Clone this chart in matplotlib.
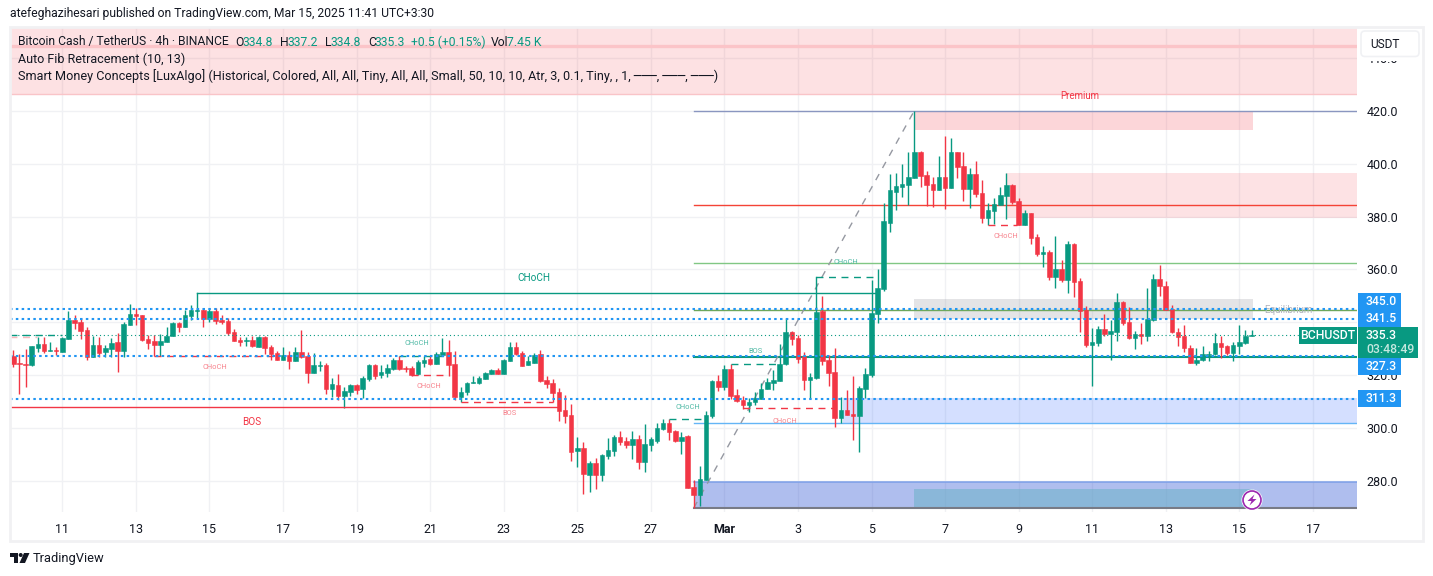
import matplotlib
matplotlib.use('Agg')
import matplotlib.pyplot as plt
from matplotlib.patches import Rectangle, Circle, Polygon, FancyBboxPatch

plt.rcParams['font.family'] = ['Roboto', 'DejaVu Sans']

# 4h candles
opens = [327.4, 324.6, 324.3, 324.0, 330.4, 331.9, 329.3, 329.6, 328.9, 333.8, 341.0, 340.2, 337.2, 327.0, 331.5, 328.9, 330.0, 332.6, 329.2, 339.0,
         343.2, 342.8, 333.8, 333.0, 331.5, 332.6, 334.9, 339.8, 338.3, 342.5, 344.5, 344.7, 341.3, 344.3, 341.0, 340.6, 336.4, 333.4, 333.0, 333.4,
         330.7, 334.5, 330.7, 328.5, 325.9, 327.7, 325.5, 328.9, 327.4, 321.0, 323.6, 324.0, 314.9, 316.4, 312.3, 313.8, 316.4, 314.9, 318.7, 324.0,
         320.2, 321.0, 322.5, 325.8, 322.8, 322.8, 320.6, 324.7, 326.2, 324.3, 327.7, 328.9, 324.3, 311.9, 313.8, 317.2, 317.2, 318.7, 320.6, 322.1,
         320.6, 325.5, 330.7, 328.5, 324.0, 324.7, 328.1, 318.3, 317.2, 313.8, 307.0, 305.1, 291.5, 292.6, 282.4, 287.0, 282.4, 289.6, 291.5, 296.8,
         295.3, 293.8, 296.0, 287.4, 293.8, 295.3, 299.8, 302.1, 299.1, 295.3, 297.2, 277.9, 274.9, 280.6, 304.7, 317.9, 315.7, 322.5, 312.6, 310.8,
         308.9, 310.0, 311.1, 314.9, 317.2, 317.9, 324.3, 336.4, 334.1, 327.4, 318.3, 319.0, 344.3, 325.9, 321.3, 304.0, 307.0, 305.5, 304.7, 314.9,
         320.2, 343.2, 352.6, 377.5, 389.2, 391.1, 391.9, 394.5, 404.3, 395.7, 392.3, 390.0, 394.9, 390.8, 404.3, 399.0, 390.4, 396.0, 388.9, 379.5,
         382.1, 384.3, 387.7, 391.9, 385.9, 376.8, 381.3, 372.3, 365.8, 366.6, 357.2, 360.2, 356.0, 369.6, 355.7, 344.7, 331.5, 332.3, 337.5, 335.6,
         336.4, 347.7, 340.2, 334.1, 335.6, 334.9, 340.9, 356.4, 353.8, 345.1, 336.4, 334.9, 330.4, 324.7, 325.8, 327.7, 328.1, 332.3, 331.1, 328.5,
         331.1, 332.3, 334.8]
highs = [329.6, 328.0, 330.0, 331.1, 334.7, 334.7, 332.6, 330.9, 334.4, 344.3, 342.8, 341.7, 338.3, 334.9, 334.5, 331.5, 334.2, 336.0, 340.2, 347.0,
         345.5, 342.8, 335.3, 335.3, 335.7, 338.3, 340.2, 340.2, 344.7, 346.6, 345.5, 345.5, 345.5, 345.5, 342.8, 341.7, 337.5, 334.5, 334.5, 334.9,
         334.9, 334.9, 331.5, 329.2, 330.7, 329.2, 330.7, 337.2, 328.9, 328.5, 325.5, 324.7, 319.1, 320.6, 315.7, 316.8, 316.8, 319.8, 324.3, 324.3,
         324.0, 324.3, 326.6, 327.4, 323.6, 323.6, 325.8, 327.4, 327.4, 328.9, 334.1, 333.4, 329.2, 315.7, 317.5, 319.8, 319.8, 321.3, 322.5, 322.8,
         326.2, 332.6, 332.6, 329.2, 327.4, 328.5, 329.6, 319.8, 318.7, 315.3, 312.6, 309.2, 296.8, 294.9, 287.7, 288.9, 290.4, 296.4, 297.5, 299.1,
         296.8, 299.1, 297.5, 301.7, 296.8, 302.1, 303.6, 303.6, 299.4, 298.7, 297.5, 280.6, 285.8, 306.6, 318.3, 320.2, 324.0, 324.3, 314.9, 312.3,
         311.5, 313.8, 317.2, 319.1, 322.1, 331.9, 341.7, 336.8, 335.3, 328.9, 321.0, 346.0, 350.0, 327.7, 330.4, 311.9, 314.5, 319.8, 316.0, 322.8,
         356.0, 360.2, 385.1, 396.0, 396.4, 399.8, 404.3, 419.8, 404.7, 397.2, 394.9, 402.8, 410.4, 409.6, 404.3, 404.3, 398.3, 400.9, 393.8, 385.1,
         387.0, 391.1, 396.4, 392.3, 387.0, 382.5, 381.3, 373.4, 368.9, 367.4, 372.6, 363.6, 370.8, 370.0, 356.8, 346.2, 337.9, 338.7, 343.2, 341.0,
         351.1, 348.1, 345.8, 336.8, 339.8, 353.0, 358.3, 361.7, 355.7, 346.6, 337.9, 339.0, 331.5, 330.4, 331.1, 329.2, 336.0, 334.9, 331.5, 332.6,
         339.0, 337.2, 337.2]
lows = [323.3, 313.0, 315.8, 323.6, 329.0, 328.6, 329.2, 327.9, 328.9, 333.8, 337.5, 333.8, 325.9, 327.0, 327.0, 327.0, 327.0, 321.3, 327.0, 339.0,
        339.0, 333.0, 330.0, 327.4, 327.4, 332.6, 334.9, 336.4, 338.3, 341.0, 341.7, 338.3, 340.2, 339.4, 339.4, 335.3, 333.0, 331.1, 331.1, 330.7,
        330.7, 328.1, 325.9, 325.9, 325.9, 322.4, 325.5, 326.6, 317.2, 321.0, 321.7, 313.0, 311.9, 310.8, 307.7, 312.3, 313.0, 311.5, 317.9, 318.7,
        319.1, 319.4, 322.1, 322.1, 321.3, 319.8, 320.2, 323.2, 324.0, 324.3, 327.4, 319.8, 310.8, 310.0, 312.6, 317.2, 316.8, 318.7, 320.6, 320.6,
        320.6, 325.5, 327.7, 323.6, 324.0, 324.7, 317.5, 315.3, 310.0, 302.8, 302.1, 287.7, 285.5, 275.3, 276.0, 277.2, 280.2, 288.5, 289.6, 293.8,
        292.6, 288.5, 284.7, 283.6, 291.5, 294.5, 299.4, 295.7, 294.9, 290.4, 277.5, 270.0, 270.8, 280.6, 304.0, 314.2, 314.5, 311.1, 310.0, 307.4,
        306.2, 308.9, 311.1, 314.9, 314.5, 317.9, 324.0, 331.5, 324.7, 314.5, 311.5, 318.7, 324.0, 316.0, 300.6, 302.1, 305.1, 295.7, 291.1, 311.5,
        319.4, 339.8, 351.9, 374.2, 382.5, 387.4, 384.3, 394.5, 391.1, 384.0, 383.6, 390.0, 382.8, 390.8, 394.5, 385.8, 383.2, 387.4, 377.5, 376.8,
        377.2, 384.3, 379.0, 384.7, 376.8, 376.8, 369.6, 365.1, 361.0, 356.0, 353.0, 355.3, 351.1, 349.6, 336.4, 330.7, 316.0, 331.1, 334.9, 325.8,
        333.0, 339.0, 333.8, 330.0, 331.9, 333.0, 340.6, 350.0, 344.7, 336.0, 331.1, 328.9, 324.7, 323.9, 325.5, 325.5, 327.7, 326.6, 327.7, 325.5,
        328.1, 331.9, 334.8]
closes = [324.5, 324.3, 324.1, 331.1, 331.9, 329.4, 329.6, 329.3, 334.0, 341.0, 339.8, 336.8, 327.0, 331.5, 328.5, 330.4, 332.3, 329.2, 339.4, 343.2,
          342.5, 333.4, 332.3, 331.5, 333.0, 334.9, 339.8, 338.3, 342.8, 344.7, 344.7, 341.3, 344.3, 340.6, 340.2, 336.0, 333.0, 332.6, 333.4, 331.1,
          334.5, 330.4, 328.1, 325.9, 327.7, 325.5, 328.9, 327.0, 321.0, 324.0, 324.0, 314.9, 316.8, 312.3, 314.2, 316.4, 314.5, 319.1, 324.0, 319.8,
          321.3, 322.8, 325.8, 322.5, 322.5, 320.2, 325.1, 325.8, 324.3, 328.1, 328.9, 324.0, 311.9, 313.8, 317.2, 317.5, 319.1, 320.9, 322.1, 320.6,
          325.8, 330.7, 328.1, 323.6, 325.5, 327.7, 317.9, 316.8, 313.4, 306.6, 304.7, 291.1, 292.6, 282.8, 287.0, 282.4, 290.0, 291.9, 296.8, 294.9,
          293.8, 296.0, 287.4, 294.1, 296.0, 300.2, 302.1, 298.7, 295.3, 296.8, 277.5, 274.9, 280.9, 305.1, 317.9, 315.7, 322.5, 312.3, 310.4, 308.9,
          310.0, 311.5, 314.9, 317.5, 318.3, 324.3, 336.4, 333.8, 326.2, 318.3, 319.4, 344.0, 325.5, 320.9, 304.0, 307.0, 305.1, 304.7, 315.3, 320.6,
          343.6, 353.0, 378.3, 390.0, 391.5, 392.3, 394.9, 404.3, 395.3, 391.9, 390.0, 394.9, 390.8, 404.3, 398.7, 390.4, 396.0, 388.5, 379.5, 382.5,
          384.7, 388.1, 391.9, 385.5, 376.8, 381.3, 371.9, 365.8, 366.6, 357.2, 360.2, 356.0, 369.6, 355.3, 344.3, 331.5, 332.6, 337.5, 335.6, 336.8,
          347.7, 339.8, 334.1, 335.6, 334.9, 341.3, 356.4, 353.8, 344.7, 336.4, 334.5, 330.4, 324.7, 325.8, 328.1, 328.1, 332.3, 330.7, 328.5, 331.5,
          332.6, 334.9, 335.3]

# axis ticks
price_ticks = [440, 420, 400, 380, 360, 340, 320, 300, 280]
price_labels = ['440.0', '420.0', '400.0', '380.0', '360.0', '', '320.0', '300.0', '280.0']
date_pos = [8, 20, 32, 44, 56, 68, 80, 92, 104, 116, 128, 140, 152, 164, 176, 188, 200, 212]
date_labels = ['11', '13', '15', '17', '19', '21', '23', '25', '27', 'Mar', '3', '5', '7', '9', '11', '13', '15', '17']

# horizontal levels
blue_levels = [345.0, 341.5, 327.3, 311.3]
last_price = 335.3
fib_levels = [420.0, 384.5, 362.6, 344.6, 327.0, 301.9, 270.0]
fib_colors = ['#8a96c0', '#f44336', '#81c784', '#6fa85a', '#089981', '#64b5f6', '#787b86']
fib_widths = [1.0, 1.0, 1.0, 1.0, 1.5, 1.0, 1.5]

# market structure lines: start bar, end bar, price, colour, dashed
struct_lines = [
    (30, 140.7, 351.0, '#089981', False),
    (-0.5, 88.7, 308.3, '#f23645', False),
    (23, 42.7, 327.2, '#f23645', True),
    (-0.5, 3.9, 334.5, '#f9b6bb', True),
    (-0.5, 8, 335.4, '#089981', True),
    (64.8, 70.9, 320.2, '#f23645', True),
    (63, 70.4, 327.4, '#089981', True),
    (73, 88, 310.0, '#f23645', True),
    (107, 112.6, 303.4, '#089981', True),
    (117, 124.7, 324.2, '#089981', True),
    (119, 133.7, 307.7, '#f23645', True),
    (131, 140.8, 357.3, '#089981', True),
    (159, 163.7, 376.8, '#f23645', True),
]
struct_labels = [
    ('CHoCH', 84.9, 356.8, '#089981', 7.2),
    ('BOS', 38.9, 302.5, '#f23645', 7.2),
    ('CHoCH', 32.9, 323.0, '#f7828c', 5.4),
    ('CHoCH', 65.8, 331.9, '#4fb9a5', 5.4),
    ('CHoCH', 67.8, 315.7, '#f7828c', 5.4),
    ('BOS', 81.0, 305.5, '#f7828c', 5.4),
    ('CHoCH', 110.0, 308.1, '#4fb9a5', 5.4),
    ('CHoCH', 125.9, 302.8, '#f7828c', 5.4),
    ('BOS', 121.0, 328.9, '#4fb9a5', 5.4),
    ('CHoCH', 135.8, 362.5, '#4fb9a5', 5.4),
    ('CHoCH', 161.9, 372.3, '#f7828c', 5.4),
    ('Premium', 174.0, 425.5, '#f23645', 7.0),
    ('Equilibrium', 208.0, 344.7, '#b2b5be', 7.0),
]

fig = plt.figure(figsize=(14.33, 5.76), dpi=100)
ax = fig.add_axes([10 / 1433, 1 - 512 / 576, 1347 / 1433, 485 / 576])
ax.set_xlim(-0.54, 219.2)
ax.set_ylim(268.49, 451.51)
ax.set_axisbelow(True)
for s in ax.spines.values():
    s.set_visible(False)

ax.set_yticks(price_ticks)
ax.set_yticklabels(price_labels, fontsize=9, color='#131722')
ax.yaxis.tick_right()
ax.set_xticks(date_pos)
ax.set_xticklabels(date_labels, fontsize=9, color='#131722')
ax.tick_params(axis='both', length=0)
ax.tick_params(axis='y', pad=7)
ax.tick_params(axis='x', pad=8)
ax.grid(color='#f0f1f4', linewidth=1)
for t, lab in zip(ax.get_xticklabels(), date_labels):
    if lab == 'Mar':
        t.set_fontweight('bold')

# zones
ax.axhspan(426.4, 451.51, color='#f23645', alpha=0.15, lw=0, zorder=1)
ax.axhline(426.4, color='#f9c4c8', lw=1, zorder=1)
ax.axhline(444.4, color='#fbc4c8', lw=2.4, zorder=1)
ax.add_patch(Rectangle((147, 412.7), 55.2, 7.3, fc='#f23645', alpha=0.2, lw=0, zorder=1))
ax.add_patch(Rectangle((162, 379.4), 57.2, 17.1, fc='#f23645', alpha=0.14, lw=0, zorder=1))
ax.add_patch(Rectangle((147, 341.5), 55.2, 7.4, fc='#787b86', alpha=0.2, lw=0, zorder=1))
ax.add_patch(Rectangle((135.4, 301.9), 83.8, 9.7, fc='#2962ff', alpha=0.2, lw=0, zorder=1))
ax.add_patch(Rectangle((111, 270.0), 108.2, 9.7, fc='#2f55d4', alpha=0.38, lw=0, zorder=1))
ax.add_patch(Rectangle((147, 270.0), 55.2, 7.0, fc='#67b2c5', alpha=0.5, lw=0, zorder=1))
ax.plot([111, 219.2], [279.7, 279.7], color='#7c9fe8', lw=1.1, zorder=2)

# fib lines
for lv, c, w in zip(fib_levels, fib_colors, fib_widths):
    ax.plot([111, 219.2], [lv, lv], color=c, lw=w, zorder=2)
ax.plot([111, 147], [270, 420], color='#9598a1', lw=1, ls=(0, (5, 5)), zorder=2)

# candles
xs = list(range(len(opens)))
up = [c >= o for o, c in zip(opens, closes)]
cols = ['#089981' if u else '#f23645' for u in up]
ax.vlines(xs, lows, highs, colors=cols, linewidth=1.0, zorder=3)
ax.bar(xs, [abs(c - o) for o, c in zip(opens, closes)], bottom=[min(o, c) for o, c in zip(opens, closes)],
       width=0.74, color=cols, edgecolor=cols, linewidth=0.4, zorder=3)

# structure lines
for x0, x1, p, c, dashed in struct_lines:
    ax.plot([x0, x1], [p, p], color=c, lw=1, ls=(0, (5, 4)) if dashed else '-', zorder=4)
ax.plot([30, 30], [344.5, 351.0], color='#089981', lw=1, zorder=4)
ax.plot([131, 131], [346, 357.3], color='#089981', lw=1, zorder=4)
for txt, x, p, c, fs in struct_labels:
    ax.text(x, p, txt, color=c, fontsize=fs, ha='center', va='center', zorder=4)

# dotted levels
for lv in blue_levels:
    ax.plot([-0.54, 219.2], [lv, lv], color='#2196f3', lw=1.5, ls=(0, (1.2, 1.6)), zorder=5)
ax.plot([-0.54, 219.2], [last_price, last_price], color='#089981', lw=0.8, ls=(0, (1, 2.5)), zorder=5)

# everything around the pane, in pixels
ov = fig.add_axes([0, 0, 1, 1])
ov.set_xlim(0, 1433)
ov.set_ylim(576, 0)
ov.axis('off')
ov.add_patch(Rectangle((10, 27), 1413, 514, fc='none', ec='#f1f1f3', lw=2))

ov.text(10, 14, 'atefeghazihesari published on TradingView.com, Mar 15, 2025 11:41 UTC+3:30', fontsize=8.7, color='#131722', va='center')
dark = '#131722'
green = '#089981'
legend_bits = [
    (18, 'Bitcoin Cash / TetherUS · 4h · BINANCE', dark), (235, 'O', dark), (243, '334.8', green),
    (280, 'H', dark), (288, '337.2', green), (325, 'L', dark), (331, '334.8', green),
    (368, 'C', dark), (375, '335.3', green), (411, '+0.5 (+0.15%)', green), (491, 'Vol', dark), (507, '7.45 K', green),
]
for x, txt, c in legend_bits:
    ov.text(x, 42, txt, fontsize=8.7, color=c, va='center')
ov.text(18, 59, 'Auto Fib Retracement (10, 13)', fontsize=9, color=dark, va='center')
ov.text(18, 76, 'Smart Money Concepts [LuxAlgo] (Historical, Colored, All, All, Tiny, All, All, Small, 50, 10, 10, Atr, 3, 0.1, Tiny, , 1, ───, ───, ───)',
        fontsize=9.1, color=dark, va='center')

# USDT button, it sits over the 440 label
ov.add_patch(Rectangle((1358, 29), 64, 31.5, fc='white', lw=0))
ov.add_patch(FancyBboxPatch((1361, 31), 58, 25.5, boxstyle='round,pad=0,rounding_size=4', fc='white', ec='#f0f1f4', lw=1.2))
ov.text(1370, 44.5, 'USDT', fontsize=8.6, color=dark, va='center')

# price tags
ov.add_patch(Rectangle((1358, 293), 43, 34, fc='#2196f3', lw=0))
ov.add_patch(Rectangle((1358, 358), 43, 17, fc='#2196f3', lw=0))
ov.add_patch(Rectangle((1358, 390), 43, 17, fc='#2196f3', lw=0))
for txt, y in [('345.0', 301.5), ('341.5', 318.5), ('327.3', 367), ('311.3', 399)]:
    ov.text(1366, y, txt, fontsize=8.8, color='white', va='center', fontweight='medium')
ov.add_patch(Rectangle((1358, 327), 60, 31, fc=green, lw=0))
ov.add_patch(Rectangle((1299, 327), 58, 17, fc=green, lw=0))
ov.text(1328, 335.5, 'BCHUSDT', fontsize=8.8, color='white', ha='center', va='center', fontweight='medium')
ov.text(1366, 335.5, '335.3', fontsize=8.8, color='white', va='center', fontweight='medium')
ov.text(1366, 349.5, '03:48:49', fontsize=8.8, color='#c4e8df', va='center', fontweight='medium')

# lightning badge
ov.add_patch(Circle((1252, 500), 10.5, fc='white', lw=0))
ov.add_patch(Circle((1252, 500), 9, fc='white', ec='#9c27b0', lw=1.2))
ov.add_patch(Polygon([(1254.5, 494.5), (1247.5, 501), (1251.5, 501), (1249.5, 505.5), (1256.5, 499), (1252.5, 499)], fc='#9c27b0', lw=0))

# logo
ov.add_patch(Polygon([(10, 553), (18, 553), (18, 563), (14, 563), (14, 557), (10, 557)], fc=dark, lw=0))
ov.add_patch(Circle((20.7, 555), 2, fc=dark, lw=0))
ov.add_patch(Polygon([(24, 553), (29.5, 553), (25, 563), (19.5, 563)], fc=dark, lw=0))
ov.text(33, 558.5, 'TradingView', fontsize=9.3, color=dark, va='center')

fig.savefig('out.png', dpi=100, facecolor='white')
